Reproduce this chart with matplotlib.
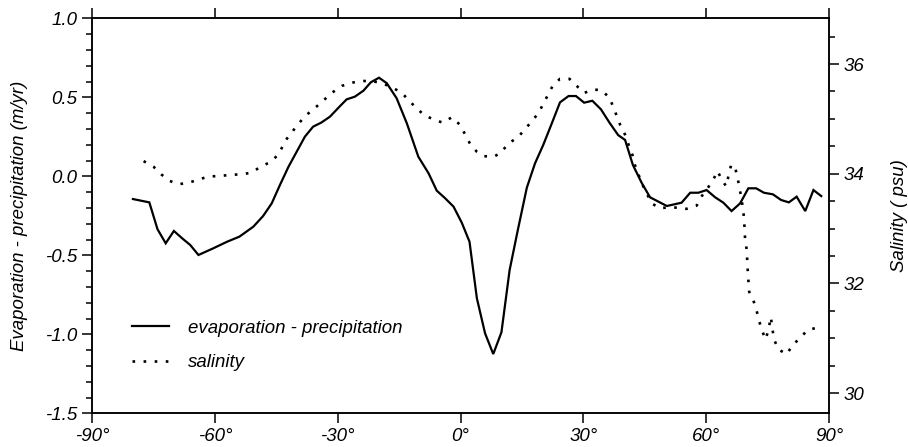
import matplotlib
matplotlib.use("Agg")
import matplotlib.pyplot as plt
from matplotlib.ticker import MultipleLocator

# ---- data ----
ep_lat = [-80, -76, -74, -72, -70, -68, -66, -64, -60.4, -57, -54, -50.6, -48.2, -46.1,
          -44.1, -42, -40, -38, -36, -34, -31.9, -29.4, -27.8, -25.8, -23.7, -21.9, -19.9,
          -18, -15.6, -13.1, -10.3, -7.8, -5.8, -3.75, -1.7, 0.3, 2.2, 4, 6, 8, 10, 12, 14,
          16.2, 18.2, 20.2, 22.3, 24.3, 26.4, 28.2, 30.2, 32.2, 34.3, 36.4, 38.5, 40.2, 42.1,
          44.3, 46.3, 50.4, 54, 56.1, 58.1, 60.1, 62.2, 64.2, 66.2, 68.3, 70.3, 72.2, 74.1,
          76.3, 78.3, 80.2, 82.1, 84.2, 86.2, 88.1]
ep_val = [-0.144, -0.165, -0.335, -0.424, -0.346, -0.392, -0.435, -0.498, -0.456, -0.414,
          -0.382, -0.319, -0.251, -0.171, -0.055, 0.061, 0.156, 0.251, 0.314, 0.34, 0.377,
          0.445, 0.487, 0.504, 0.542, 0.595, 0.624, 0.589, 0.494, 0.335, 0.124, 0.019,
          -0.091, -0.139, -0.192, -0.293, -0.414, -0.772, -0.994, -1.125, -0.987, -0.593,
          -0.340, -0.072, 0.082, 0.198, 0.335, 0.468, 0.508, 0.508, 0.466, 0.478, 0.424,
          0.339, 0.261, 0.230, 0.072, -0.044, -0.133, -0.188, -0.167, -0.104, -0.104,
          -0.087, -0.133, -0.167, -0.220, -0.171, -0.076, -0.076, -0.104, -0.114, -0.150,
          -0.165, -0.129, -0.220, -0.087, -0.125]

sal_lat = [-77.4, -75, -73.1, -71.1, -68.7, -66.2, -63.8, -61.4, -58.7, -56.1, -53.4, -51,
           -48.8, -46.5, -44.6, -42.4, -40, -38, -36, -34, -31.5, -29, -26.6, -23.7, -21.7,
           -19.2, -16.8, -14.3, -11.1, -8.9, -6.6, -4.3, -2.1, -0.1, 2.3, 4, 5.8, 8, 9.7,
           11.7, 14.1, 17, 19, 21.1, 22.5, 24.3, 26.6, 28.4, 30.2, 32, 34.1, 36.3, 37.3,
           39, 40.2, 41.1, 42, 42.6, 44.3, 46.7, 48.7, 51, 53.2, 55.2, 57.7, 58.9, 60.3,
           61.8, 62.75, 64, 64.9, 65.5, 66.1, 67, 67.6, 68.1, 68.9, 69.25, 69.5, 69.9,
           70.15, 70.5, 71.5, 72.3, 72.9, 73.6, 74.5, 75.2, 75.8, 76.2, 76.6, 77.6, 79.7,
           81.1, 82.9, 84.7, 87.4]
sal_val = [34.23, 34.13, 33.99, 33.87, 33.81, 33.84, 33.90, 33.95, 33.96, 33.98, 33.99,
           34.02, 34.13, 34.21, 34.34, 34.64, 34.87, 35.05, 35.17, 35.30, 35.47, 35.60,
           35.66, 35.69, 35.69, 35.65, 35.58, 35.47, 35.22, 35.07, 34.99, 34.93, 35.03,
           34.89, 34.55, 34.40, 34.32, 34.31, 34.37, 34.55, 34.67, 34.92, 35.10, 35.40,
           35.60, 35.73, 35.73, 35.60, 35.47, 35.53, 35.53, 35.40, 35.22, 34.89, 34.71,
           34.52, 34.34, 34.16, 33.82, 33.46, 33.37, 33.39, 33.38, 33.36, 33.42, 33.59,
           33.73, 33.90, 34.05, 33.87, 33.77, 33.98, 34.16, 34.14, 33.94, 33.77, 33.41,
           33.19, 32.82, 32.61, 32.24, 31.85, 31.70, 31.51, 31.33, 31.15, 30.98, 31.15,
           31.39, 31.16, 30.98, 30.80, 30.71, 30.88, 31.00, 31.15, 31.20]

x_ticks = [-90, -60, -30, 0, 30, 60, 90]
x_labels = ["-90°", "-60°", "-30°", "0°", "30°", "60°", "90°"]
left_ticks = [-1.5, -1.0, -0.5, 0.0, 0.5, 1.0]
left_labels = ["-1.5", "-1.0", "-0.5", "0.0", "0.5", "1.0"]
right_ticks = [30, 32, 34, 36]
right_labels = ["30", "32", "34", "36"]

plt.rcParams['font.family'] = ['Liberation Sans', 'DejaVu Sans']
plt.rcParams['font.style'] = 'italic'

fig = plt.figure(figsize=(9.08, 4.47), dpi=100)
ax = fig.add_axes([92 / 908, 1 - 413.3 / 447, (829 - 92) / 908, (413.3 - 18.3) / 447])
ax2 = ax.twinx()

l1, = ax.plot(ep_lat, ep_val, color='black', lw=1.6, solid_joinstyle='miter')
l2, = ax2.plot(sal_lat, sal_val, color='black', lw=1.9, dashes=(1, 3.2),
               dash_capstyle='butt')

ax.set_xlim(-90, 90)
ax.set_ylim(-1.5, 1.0)
ax2.set_ylim(29.634, 36.833)

fs = 13.5
ax.set_xticks(x_ticks)
ax.set_xticklabels(x_labels, fontsize=fs, style='italic')
ax.set_yticks(left_ticks)
ax.set_yticklabels(left_labels, fontsize=fs, style='italic')
ax.yaxis.set_minor_locator(MultipleLocator(0.1))
ax2.set_yticks(right_ticks)
ax2.set_yticklabels(right_labels, fontsize=fs, style='italic')
ax2.yaxis.set_minor_locator(MultipleLocator(0.5))

for a in (ax, ax2):
    for s in a.spines.values():
        s.set_linewidth(1.1)

ax.tick_params(axis='x', which='major', direction='out', length=7.5, width=1.1,
               top=True, labeltop=False, pad=3)
ax.tick_params(axis='y', which='major', direction='out', length=7.5, width=1.1, pad=3)
ax.tick_params(axis='y', which='minor', direction='out', length=4.3, width=1.1)
ax2.tick_params(axis='y', which='major', direction='out', length=7.5, width=1.1, pad=3)
ax2.tick_params(axis='y', which='minor', direction='out', length=4.6, width=1.1)

ax.set_ylabel("Evaporation - precipitation (m/yr)", fontsize=13.4, style='italic',
              labelpad=12)
ax2.set_ylabel("Salinity ( psu)", fontsize=13.4, style='italic', labelpad=19)

leg = ax.legend([l1, l2], ["evaporation - precipitation", "salinity"],
                loc='center left', bbox_to_anchor=(0.054, 0.172), frameon=False,
                borderpad=0, borderaxespad=0, handlelength=2.0, handletextpad=1.0,
                labelspacing=0.95, prop={'size': 13.4, 'style': 'italic'})

fig.savefig("out.png", dpi=100)
